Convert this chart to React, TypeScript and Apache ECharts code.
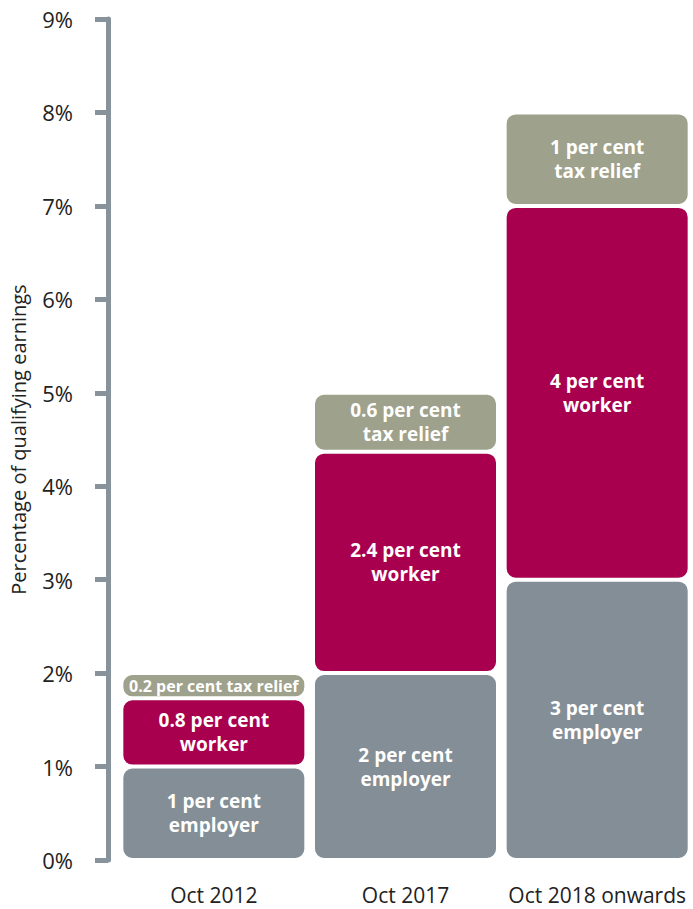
import React, { useEffect, useRef } from "react";
import * as echarts from "echarts";

const categories = ["Oct 2012", "Oct 2017", "Oct 2018 onwards"];
const employerValues = [1, 2, 3];
const workerValues = [0.73, 2.37, 4];
const taxReliefValues = [0.27, 0.63, 1];
const employerLabels = ["1 per cent\nemployer", "2 per cent\nemployer", "3 per cent\nemployer"];
const workerLabels = ["0.8 per cent\nworker", "2.4 per cent\nworker", "4 per cent\nworker"];
const taxReliefLabels = ["0.2 per cent tax relief", "0.6 per cent\ntax relief", "1 per cent\ntax relief"];
const yTicks = [0, 1, 2, 3, 4, 5, 6, 7, 8, 9];

const FONT = "'Open Sans', 'Noto Sans', sans-serif";

export default function App() {
  const ref = useRef<HTMLDivElement>(null);
  useEffect(() => {
    if (!ref.current) return;
    const chart = echarts.init(ref.current, undefined, { renderer: "svg" });
    const mkSeries = (name: string, vals: number[], labels: string[], color: string, smallFirst = false) => ({
      name,
      type: "bar",
      stack: "total",
      barWidth: 185,
      data: vals.map((v, i) => ({
        value: v,
        label: {
          formatter: labels[i],
          fontSize: smallFirst && i === 0 ? 16 : 19,
          lineHeight: smallFirst && i === 0 ? 20 : 24,
        },
      })),
      itemStyle: { color, borderColor: "#ffffff", borderWidth: 2, borderRadius: 10 },
      label: {
        show: true,
        position: "inside",
        color: "#ffffff",
        fontFamily: FONT,
        fontWeight: "bold",
        fontSize: 19,
        lineHeight: 24,
      },
    });
    chart.setOption({
      animation: false,
      grid: { left: 116, top: 19, width: 582, bottom: 49 },
      xAxis: {
        type: "category",
        data: categories,
        axisLine: { show: false },
        axisTick: { show: false },
        axisLabel: { interval: 0, fontSize: 21, color: "#222222", fontFamily: FONT, margin: 24 },
      },
      yAxis: {
        type: "value",
        min: yTicks[0],
        max: yTicks[yTicks.length - 1],
        interval: 1,
        offset: 10,
        name: "Percentage of qualifying earnings",
        nameLocation: "middle",
        nameGap: 80,
        nameTextStyle: { fontSize: 20, color: "#222222", fontFamily: FONT },
        axisLine: { show: true, lineStyle: { color: "#87929a", width: 5 } },
        axisTick: { show: true, length: 13, lineStyle: { color: "#87929a", width: 5 } },
        splitLine: { show: false },
        axisLabel: {
          formatter: "{value}%",
          fontSize: 22,
          color: "#222222",
          fontFamily: FONT,
          margin: 35,
        },
      },
      series: [
        mkSeries("Employer", employerValues, employerLabels, "#838e96"),
        mkSeries("Worker", workerValues, workerLabels, "#a8004f"),
        mkSeries("Tax relief", taxReliefValues, taxReliefLabels, "#9ea18b", true),
      ],
    });
    return () => chart.dispose();
  }, []);
  return (
    <div
      ref={ref}
      style={{ position: "fixed", left: 0, top: 0, width: 693, height: 909, background: "#ffffff" }}
    />
  );
}
